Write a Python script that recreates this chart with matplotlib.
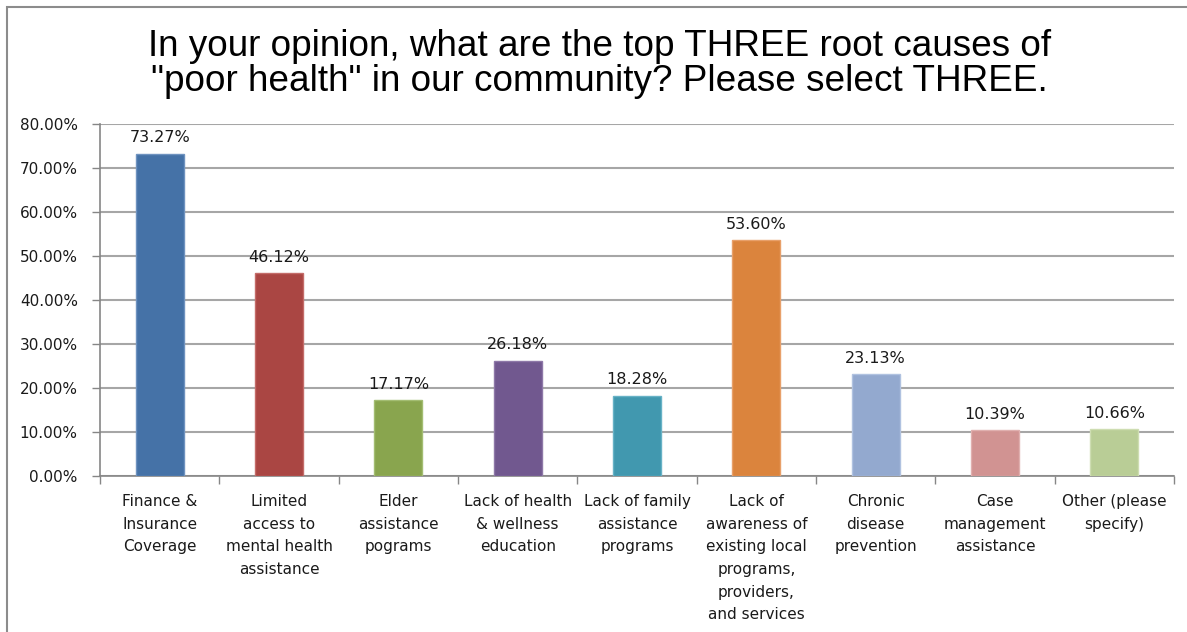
import matplotlib.pyplot as plt
from matplotlib.patches import Rectangle
import numpy as np

# data
categories = [
    "Finance &\nInsurance\nCoverage",
    "Limited\naccess to\nmental health\nassistance",
    "Elder\nassistance\npograms",
    "Lack of health\n& wellness\neducation",
    "Lack of family\nassistance\nprograms",
    "Lack of\nawareness of\nexisting local\nprograms,\nproviders,\nand services",
    "Chronic\ndisease\nprevention",
    "Case\nmanagement\nassistance",
    "Other (please\nspecify)",
]
values = [73.27, 46.12, 17.17, 26.18, 18.28, 53.60, 23.13, 10.39, 10.66]
colors = ['#4572A7', '#AA4643', '#89A54E', '#71588F', '#4198AF',
          '#DB843D', '#93A9CF', '#D19392', '#B9CD96']
edge_colors = ['#6F93C0', '#C46C69', '#A3BD72', '#8E78A8', '#67B2C6',
               '#E8A06A', '#B0C2E0', '#E0B0AF', '#CEDDB2']
yticks = [0, 10, 20, 30, 40, 50, 60, 70, 80]

W, H = 1187, 632
fig = plt.figure(figsize=(W / 100, H / 100), dpi=100)
fig.patch.set_facecolor('white')

# outer chart frame (only left/top visible in the crop)
fig.add_artist(Rectangle((7 / W, -0.1), 1.2, 1 - 7 / H + 0.1,
                         transform=fig.transFigure, fill=False,
                         edgecolor='#8C8C8C', linewidth=1.5))

ax = fig.add_axes([100 / W, 1 - 476 / H, (1174 - 100) / W, (476 - 124) / H])

x = np.arange(len(values))
ax.bar(x, values, width=0.4, color=colors, edgecolor=edge_colors,
       linewidth=1, zorder=3)

for xi, v in zip(x, values):
    ax.annotate(f"{v:.2f}%", (xi, v), xytext=(0, 6), textcoords='offset points',
                ha='center', va='bottom', fontsize=11.5, color='#1a1a1a',
                family='DejaVu Sans')

ax.set_xlim(-0.5, len(values) - 0.5)
ax.set_ylim(0, 80)
ax.set_yticks(yticks)
ax.set_yticklabels([f"{t:.2f}%" for t in yticks], fontsize=11, color='#1a1a1a')
ax.yaxis.grid(True, color='#A6A6A6', linewidth=1.5, zorder=0)
ax.set_axisbelow(True)

# category ticks at boundaries, labels centered
ax.set_xticks(np.arange(len(values) + 1) - 0.5)
ax.set_xticklabels([])
ax.tick_params(axis='x', length=6, color='#868686', width=1)
ax.tick_params(axis='y', length=6, color='#868686', width=1, pad=10)
for xi, lab in zip(x, categories):
    ax.text(xi, -4.1, lab, ha='center', va='top', fontsize=11,
            color='#1a1a1a', linespacing=1.64)

for side in ['top', 'right']:
    ax.spines[side].set_visible(False)
for side in ['left', 'bottom']:
    ax.spines[side].set_color('#868686')
    ax.spines[side].set_linewidth(1.2)

fig.text(0.505, 1 - 64 / H,
         'In your opinion, what are the top THREE root causes of\n'
         '"poor health" in our community? Please select THREE.',
         ha='center', va='center', fontsize=26.6, family='Liberation Sans',
         color='black', linespacing=0.99)

fig.savefig('out.png', dpi=100, facecolor='white')
